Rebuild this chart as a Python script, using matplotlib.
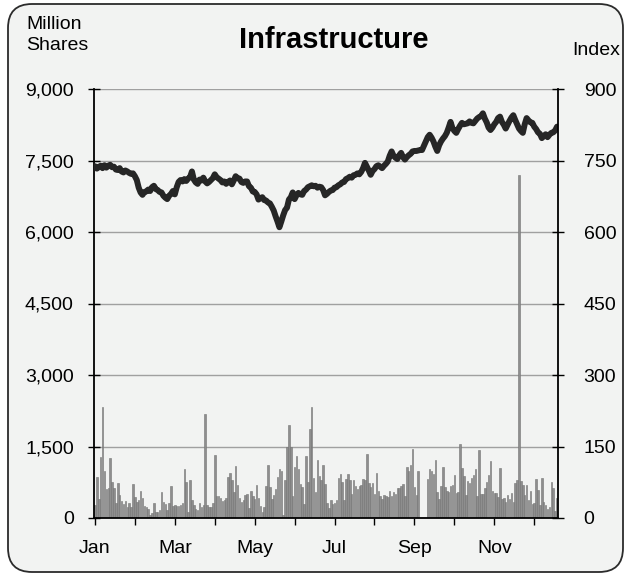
import numpy as np
import matplotlib
matplotlib.use("Agg")
import matplotlib.pyplot as plt
from matplotlib.patches import FancyBboxPatch
from matplotlib.transforms import IdentityTransform

# daily trading volume, million shares
volume = [
    270, 860, 400, 1290, 2335, 990, 610, 620, 1260, 760,
    630, 320, 730, 480, 365, 295, 365, 240, 320, 240,
    710, 440, 340, 375, 565, 430, 255, 230, 190, 60,
    110, 310, 130, 125, 165, 540, 340, 295, 165, 310,
    670, 255, 280, 255, 255, 280, 310, 1030, 750, 130,
    800, 375, 280, 180, 165, 310, 240, 280, 2180, 280,
    230, 240, 310, 1320, 470, 455, 420, 365, 375, 430,
    870, 950, 800, 535, 1090, 690, 420, 340, 375, 480,
    495, 200,
    575, 455, 405, 690, 420, 255, 120, 240, 670, 1110,
    640, 400, 480, 610, 860, 1030, 980, 60, 790, 1480,
    1950, 1480, 460, 1075, 1300, 1030, 710, 650, 290, 1300,
    750, 1860, 2335, 840, 555, 1215, 880, 800, 1110, 710,
    320, 200, 375, 295, 310, 375, 840, 930, 750, 375,
    820, 930, 800, 510, 790, 670, 610, 670, 690, 820,
    790, 1340, 730, 640, 730, 510, 940, 565, 455, 400,
    480, 455, 440, 565, 455, 535, 510, 630, 630, 670,
    710, 460, 1060, 980, 1110, 1440,
    650, 485, 990, 0, 0, 0, 0,
    820, 1030, 990, 930, 1215, 555, 405, 680, 1060, 650,
    575, 535, 670, 690, 910, 520, 555, 1550, 1040, 880,
    480, 780, 730, 840, 910, 1030, 460, 1425, 495, 505,
    630, 760, 910, 1190, 575, 520, 520, 440, 1040, 400,
    420, 335, 485, 400, 520, 335, 730, 800, 7200, 780,
    690, 480, 690, 375, 575, 295, 320, 820, 590, 280,
    840, 340, 280, 180, 230, 760, 630, 150, 430,
]

# index level
index = [
    738, 733, 736, 739, 734, 740, 735, 739, 741, 736,
    737, 731, 730, 734, 727, 725, 729, 727, 724, 722,
    723, 717, 709, 693, 683, 678, 684, 685, 689, 686,
    694, 697, 690, 688, 684, 683, 676, 672, 669, 676,
    680, 686, 679, 694, 705, 709, 706, 711, 707, 712,
    715, 727, 710, 704, 701, 710, 708, 714, 706, 702,
    705, 709, 713, 721, 715, 712, 709, 704, 706, 701,
    705, 708, 700, 708, 717, 713, 712, 705, 703, 706,
    706, 696, 693, 685, 684, 679, 668, 671, 673, 667,
    666, 662, 660, 653, 645, 633, 622, 610, 622, 635,
    646, 651, 668, 673, 683, 669, 677, 682, 679, 678,
    686, 689, 694, 696, 698, 696, 697, 693, 695, 694,
    688, 677, 680, 684, 687, 688, 693, 694, 698, 700,
    704, 705, 711, 713, 716, 714, 719, 720, 723, 721,
    726, 734, 745, 737, 729, 720, 728, 732, 738, 740,
    737, 734, 739, 743, 748, 760, 769, 760, 756, 753,
    761, 766, 757, 752, 757, 761, 764, 769, 770, 770,
    771, 772, 772, 781, 790, 799, 804, 798, 790, 779,
    770, 782, 790, 796, 801, 808, 819, 831, 818, 812,
    808, 816, 823, 829, 826, 827, 828, 832, 829, 828,
    833, 838, 841, 843, 849, 838, 830, 819, 814, 819,
    826, 831, 839, 842, 831, 825, 817, 825, 833, 840,
    845, 835, 826, 817, 812, 808, 826, 839, 834, 830,
    829, 821, 816, 809, 806, 797, 801, 805, 799, 804,
    808, 809, 813, 821,
]

month_starts = [0, 21, 42, 63, 84, 105, 126, 147, 168, 189, 210, 231]
month_labels = ["Jan", "", "Mar", "", "May", "", "Jul", "", "Sep", "", "Nov", ""]
vol_ticks = [0, 1500, 3000, 4500, 6000, 7500, 9000]
vol_labels = ["0", "1,500", "3,000", "4,500", "6,000", "7,500", "9,000"]
idx_ticks = [0, 150, 300, 450, 600, 750, 900]
idx_labels = ["0", "150", "300", "450", "600", "750", "900"]

plt.rcParams['font.family'] = ['Liberation Sans', 'DejaVu Sans']

bg = "#f2f3f2"
fig = plt.figure(figsize=(6.3, 5.74), dpi=100)
fig.patch.set_facecolor("white")

# rounded frame
frame = FancyBboxPatch((8, 2), 615, 568, boxstyle="round,pad=0,rounding_size=24",
                       transform=IdentityTransform(), facecolor=bg,
                       edgecolor="#2b2b2b", linewidth=1.3, zorder=0)
fig.add_artist(frame)

ax = fig.add_axes([94 / 630, 56 / 574, 464 / 630, 429 / 574])
ax.set_facecolor("none")
x = np.arange(len(volume))
ax.bar(x, volume, width=0.8, color="#8e8e8e", edgecolor="#747474", linewidth=0.4, zorder=2)
ax.set_xlim(-0.5, len(volume) - 0.5)
ax.set_ylim(0, 9000)
ax.set_yticks(vol_ticks)
ax.set_yticklabels(vol_labels)
ax.set_xticks(month_starts)
ax.set_xticklabels(month_labels)
ax.grid(axis="y", color="#a0a0a0", linewidth=1)
ax.set_axisbelow(True)
ax.tick_params(axis="y", direction="inout", length=9, width=1, pad=10, labelsize=14)
ax.tick_params(axis="x", direction="out", length=5, width=1, pad=11, labelsize=14)

ax2 = ax.twinx()
ax2.plot(x, index, color="#262626", linewidth=4.3, solid_joinstyle="round", solid_capstyle="round")
ax2.set_ylim(0, 900)
ax2.set_yticks(idx_ticks)
ax2.set_yticklabels(idx_labels)
ax2.tick_params(axis="y", direction="inout", length=9, width=1, pad=14, labelsize=14)

for s in ["top", "right"]:
    ax.spines[s].set_visible(False)
for s in ["top", "left", "bottom"]:
    ax2.spines[s].set_visible(False)
for sp in [ax.spines["left"], ax.spines["bottom"], ax2.spines["right"]]:
    sp.set_color("black")
    sp.set_linewidth(1.3)

fig.text(334 / 630, 1 - 26 / 574, "Infrastructure", ha="center", va="top",
         fontsize=21, fontweight="bold")
fig.text(26 / 630, 1 - 16 / 574, "Million\nShares", ha="left", va="top",
         fontsize=14, linespacing=1.3)
fig.text(620 / 630, 1 - 42 / 574, "Index", ha="right", va="top", fontsize=14)

fig.savefig("out.png", dpi=100)
